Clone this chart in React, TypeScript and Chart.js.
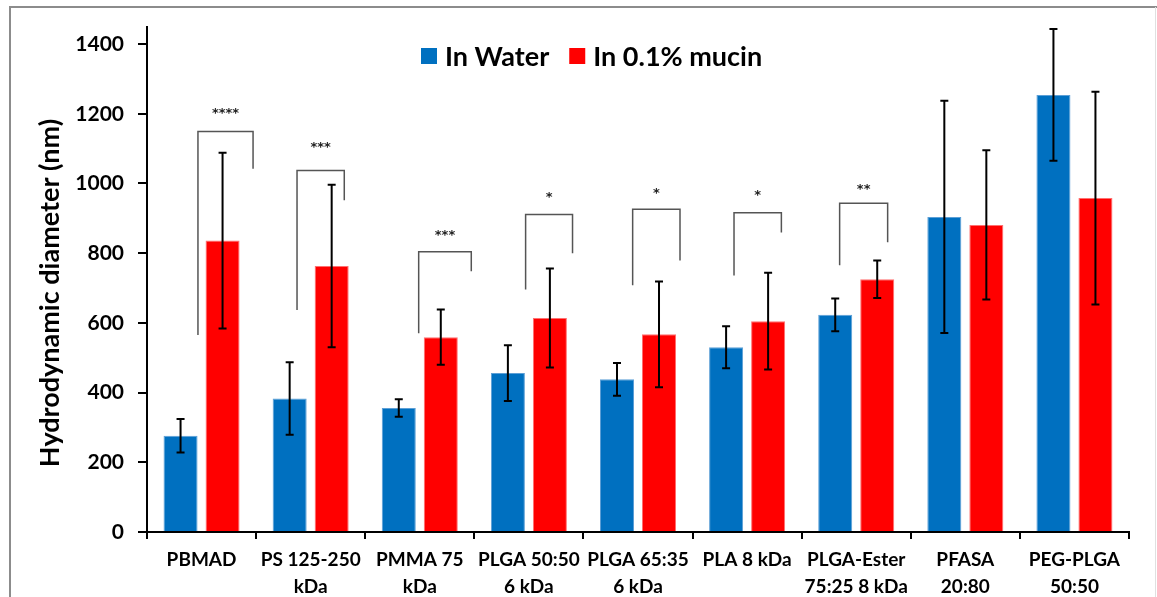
import React, { useEffect, useRef } from 'react';
import { Chart, registerables } from 'chart.js';

Chart.register(...registerables);

// ---------------- data ----------------
const categories: string[][] = [
  ['PBMAD'],
  ['PS 125-250', 'kDa'],
  ['PMMA 75', 'kDa'],
  ['PLGA 50:50', '6 kDa'],
  ['PLGA 65:35', '6 kDa'],
  ['PLA 8 kDa'],
  ['PLGA-Ester', '75:25 8 kDa'],
  ['PFASA', '20:80'],
  ['PEG-PLGA', '50:50'],
];
const waterValues = [276, 383, 356, 456, 438, 530, 623, 904, 1254];
const waterErrors = [48, 104, 25, 80, 47, 60, 47, 333, 189];
const mucinValues = [836, 763, 559, 614, 567, 605, 725, 881, 958];
const mucinErrors = [252, 233, 79, 142, 152, 139, 54, 214, 305];
const yTicks = [0, 200, 400, 600, 800, 1000, 1200, 1400];

// significance brackets (category index, heights in nm)
const bracketCategory = [0, 1, 2, 3, 4, 5, 6];
const bracketTop = [1149, 1037, 804, 911, 926, 916, 943];
const bracketLeftEnd = [565, 637, 570, 696, 708, 736, 765];
const bracketRightEnd = [1042, 952, 748, 800, 779, 859, 831];
const bracketLabelY = [1210, 1111, 859, 968, 978, 973, 990];
const bracketLabels = ['****', '***', '***', '*', '*', '*', '**'];
// horizontal leg positions in category units relative to the category centre
const bracketLeftOffset = [-0.033, -0.125, -0.01, -0.03, -0.049, -0.12, -0.152];
const bracketRightOffset = [0.472, 0.308, 0.472, 0.4, 0.385, 0.314, 0.288];

const FONT = 'Lato, "Open Sans", sans-serif';

const framePlugin = {
  id: 'frame',
  beforeDraw(chart: any) {
    const { ctx, width, height } = chart;
    ctx.save();
    ctx.fillStyle = '#ffffff';
    ctx.fillRect(0, 0, width, height);
    ctx.strokeStyle = '#8c8c8c';
    ctx.lineWidth = 2;
    ctx.beginPath();
    ctx.moveTo(10, height);
    ctx.lineTo(10, 7);
    ctx.lineTo(width, 7);
    ctx.stroke();
    ctx.strokeStyle = '#e0e0e0';
    ctx.lineWidth = 1;
    ctx.beginPath();
    ctx.moveTo(width - 1.5, 7);
    ctx.lineTo(width - 1.5, height);
    ctx.stroke();
    ctx.restore();
  },
};

const errorBarPlugin = {
  id: 'errorBars',
  afterDatasetsDraw(chart: any) {
    const { ctx } = chart;
    const y = chart.scales.y;
    const errs = [waterErrors, mucinErrors];
    ctx.save();
    ctx.strokeStyle = '#000';
    ctx.lineWidth = 2;
    chart.data.datasets.forEach((ds: any, di: number) => {
      const meta = chart.getDatasetMeta(di);
      meta.data.forEach((el: any, i: number) => {
        const v = ds.data[i];
        const e = errs[di][i];
        const yt = y.getPixelForValue(v + e);
        const yb = y.getPixelForValue(v - e);
        const x = el.x;
        ctx.beginPath();
        ctx.moveTo(x, yt);
        ctx.lineTo(x, yb);
        ctx.moveTo(x - 4, yt);
        ctx.lineTo(x + 4, yt);
        ctx.moveTo(x - 4, yb);
        ctx.lineTo(x + 4, yb);
        ctx.stroke();
      });
    });
    ctx.restore();
  },
};

const bracketPlugin = {
  id: 'brackets',
  afterDraw(chart: any) {
    const { ctx } = chart;
    const xs = chart.scales.x;
    const ys = chart.scales.y;
    const catW = xs.width / categories.length;
    ctx.save();
    ctx.strokeStyle = '#555';
    ctx.lineWidth = 1.5;
    bracketCategory.forEach((c, k) => {
      const cx = xs.getPixelForValue(c);
      const xl = cx + bracketLeftOffset[k] * catW;
      const xr = cx + bracketRightOffset[k] * catW;
      const yt = ys.getPixelForValue(bracketTop[k]);
      ctx.beginPath();
      ctx.moveTo(xl, ys.getPixelForValue(bracketLeftEnd[k]));
      ctx.lineTo(xl, yt);
      ctx.lineTo(xr, yt);
      ctx.lineTo(xr, ys.getPixelForValue(bracketRightEnd[k]));
      ctx.stroke();
      ctx.fillStyle = '#222';
      ctx.font = 'bold 13px "DejaVu Sans", sans-serif';
      ctx.textAlign = 'center';
      ctx.textBaseline = 'middle';
      ctx.fillText(bracketLabels[k], (xl + xr) / 2, ys.getPixelForValue(bracketLabelY[k]) + 3);
    });
    ctx.restore();
  },
};

const legendTitlePlugin = {
  id: 'legendTitle',
  afterDraw(chart: any) {
    const { ctx } = chart;
    ctx.save();
    // legend
    ctx.font = `bold 27px ${FONT}`;
    ctx.textBaseline = 'middle';
    ctx.textAlign = 'left';
    let x = 421;
    const yMid = 56;
    chart.data.datasets.forEach((ds: any) => {
      ctx.fillStyle = ds.backgroundColor;
      ctx.fillRect(x, yMid - 8, 16, 16);
      x += 24;
      ctx.fillStyle = '#000';
      ctx.fillText(ds.label, x, yMid + 1);
      x += ctx.measureText(ds.label).width + 20;
    });
    // y axis title
    ctx.translate(50, 293);
    ctx.rotate(-Math.PI / 2);
    ctx.textAlign = 'center';
    ctx.textBaseline = 'middle';
    ctx.font = `bold 27px ${FONT}`;
    ctx.fillStyle = '#000';
    ctx.fillText('Hydrodynamic diameter (nm)', 0, 0);
    ctx.restore();
  },
};

export default function App() {
  const ref = useRef<HTMLCanvasElement | null>(null);
  useEffect(() => {
    if (!ref.current) return;
    const chart = new Chart(ref.current, {
      type: 'bar',
      data: {
        labels: categories,
        datasets: [
          {
            label: 'In Water',
            data: waterValues,
            backgroundColor: '#0070C0',
            borderColor: '#5c9fd6',
            borderWidth: 1,
            categoryPercentage: 0.77,
            barPercentage: 0.81,
          },
          {
            label: 'In 0.1% mucin',
            data: mucinValues,
            backgroundColor: '#FF0000',
            borderColor: '#ff7070',
            borderWidth: 1,
            categoryPercentage: 0.77,
            barPercentage: 0.81,
          },
        ],
      },
      options: {
        responsive: false,
        animation: false,
        layout: { padding: { top: 23, right: 28, left: 0, bottom: 0 } },
        plugins: { legend: { display: false }, tooltip: { enabled: false } },
        scales: {
          x: {
            grid: { display: true, drawOnChartArea: false, offset: true, tickLength: 7, color: '#000', lineWidth: 2 },
            border: { color: '#000', width: 2 },
            ticks: {
              color: '#000',
              font: { family: FONT, weight: 'bold', size: 19, lineHeight: 1.45 },
              padding: 7,
              maxRotation: 0,
              autoSkip: false,
            },
            afterFit: (s: any) => {
              s.height = 65;
            },
          },
          y: {
            min: 0,
            max: 1450,
            afterBuildTicks: (s: any) => {
              s.ticks = yTicks.map((v) => ({ value: v }));
            },
            grid: { drawOnChartArea: false, tickLength: 9, color: '#000', lineWidth: 2 },
            border: { color: '#000', width: 2 },
            ticks: {
              color: '#000',
              font: { family: FONT, weight: 'bold', size: 21 },
              padding: 14,
              callback: (v: any) => String(v),
            },
            afterFit: (s: any) => {
              s.width = 147;
            },
          },
        },
      } as any,
      plugins: [framePlugin, errorBarPlugin, bracketPlugin, legendTitlePlugin],
    });
    return () => chart.destroy();
  }, []);
  return (
    <div style={{ position: 'fixed', left: 0, top: 0, width: 1157, height: 597, background: '#fff' }}>
      <canvas ref={ref} width={1157} height={597} style={{ display: 'block' }} />
    </div>
  );
}
